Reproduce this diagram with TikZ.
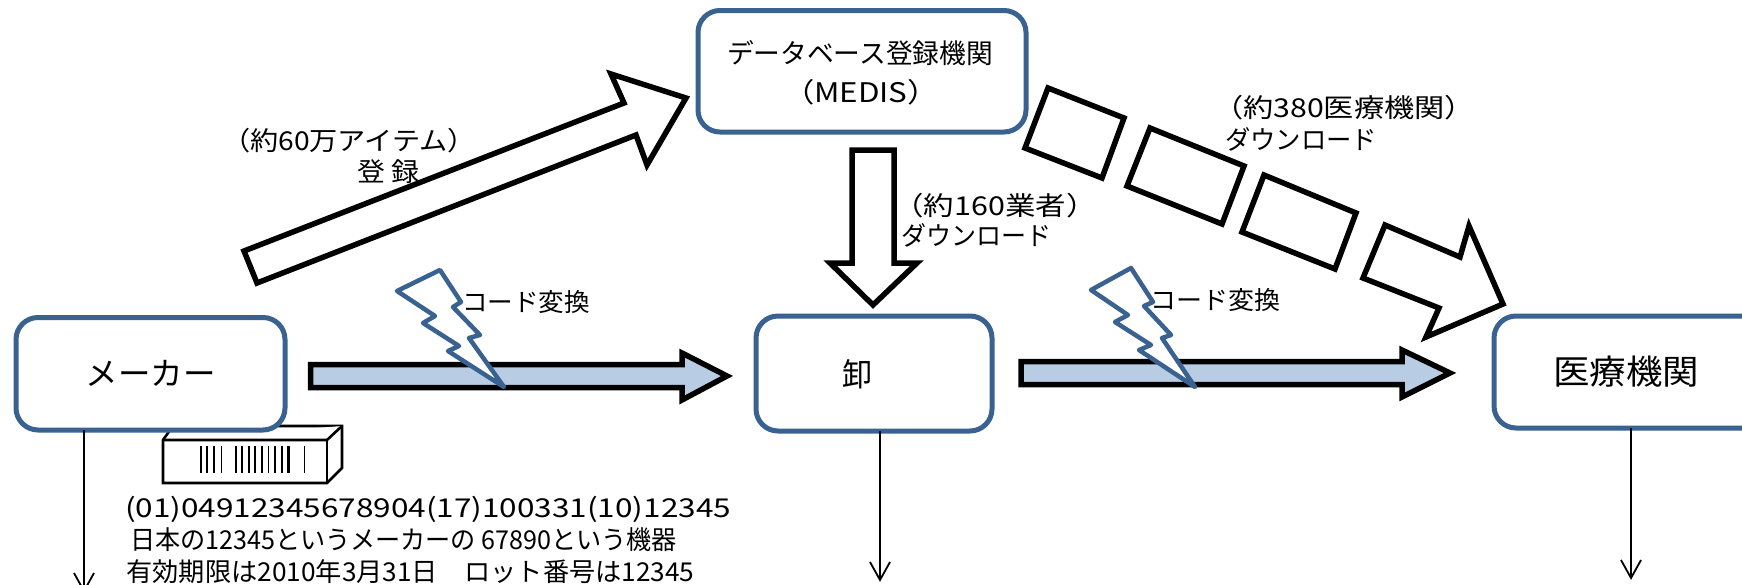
\documentclass[tikz,border=0pt]{standalone}
\usepackage{fontspec}
\usepackage{graphicx}
\setmainfont{Noto Sans CJK JP}
\newsavebox\tb
\newlength\tbw
\newcommand{\fitt}[3]{\sbox\tb{\fontsize{#2}{#2}\selectfont #3}\setlength\tbw{\wd\tb}\pgfmathsetmacro\fitr{#1/\tbw}\scalebox{\fitr}[1]{\usebox\tb}}
\definecolor{boxblue}{HTML}{3A6291}
\definecolor{arrowblue}{HTML}{B8CCE4}
\tikzset{
  orgbox/.style={draw=boxblue,line width=5pt,fill=white,rounded corners=22pt,inner sep=0pt,outer sep=0pt},
  blockarrow/.style={draw=black,line width=5.5pt,fill=white,miter limit=10},
  bluearrow/.style={draw=black,line width=5.5pt,fill=arrowblue,miter limit=10},
  bolt/.style={draw=boxblue,line width=4.5pt,fill=white,line join=round},
  thinline/.style={draw=black,line width=1.8pt},
  lbl/.style={inner sep=0pt,outer sep=0pt,anchor=center,text=black},
  bar/.style={fill=black,draw=none},
  carton/.style={draw=black,line width=2.6pt,fill=white,line join=miter}
}
\begin{document}
\begin{tikzpicture}[x=1pt,y=-1pt]
\useasboundingbox (0,0) rectangle (1742,584);
\fill[white] (0,0) rectangle (1742,584);
\clip (0,0) rectangle (1742,584);
% barcode carton
\draw[carton] (163,440) -- (173,426) -- (342,426) -- (342,468) -- (327,483) -- (163,483) -- cycle;
\draw[carton] (163,440) -- (327,440) -- (342,426);
\draw[carton] (327,440) -- (327,483);
\foreach \bx/\bw in {200.7/1.6,206.7/2,214/2.4,221.3/1.4,236/1.6,242/1.4,248.7/1.6,255/2.4,261.7/1.6,268.3/1.6,275/1.6,281.7/1.6,288.3/2.6,304.3/1.6}
  \fill[bar] (\bx-\bw/2,446) rectangle (\bx+\bw/2,473);
% organisation boxes
\node[orgbox,minimum width=328pt,minimum height=121.5pt] (db) at (862,71.25) {};
\node[orgbox,minimum width=269pt,minimum height=112.5pt] (maker) at (150.5,373.75) {};
\node[orgbox,minimum width=236pt,minimum height=115pt] (oroshi) at (874,373.5) {};
\node[orgbox,minimum width=286pt,minimum height=112pt] (hosp) at (1637,372) {};
% thin connectors
\coordinate (mk) at (84,591);
\coordinate (or) at (880,580);
\coordinate (ho) at (1631,578);
\draw[thinline] (maker.south -| mk) -- (mk);
\draw[thinline] (oroshi.south -| or) -- (or);
\draw[thinline] (hosp.south -| ho) -- (ho);
\draw[thinline] ([xshift=-10pt,yshift=18pt]mk) -- (mk) -- ([xshift=10pt,yshift=18pt]mk);
\draw[thinline] ([xshift=-10pt,yshift=18pt]or) -- (or) -- ([xshift=10pt,yshift=18pt]or);
\draw[thinline] ([xshift=-10pt,yshift=18pt]ho) -- (ho) -- ([xshift=10pt,yshift=18pt]ho);
% block arrows
\draw[blockarrow] (244,251) -- (624,103) -- (611,74) -- (686,98) -- (647,165) -- (636,135) -- (257,283) -- cycle;
\draw[blockarrow] (852,150) -- (894,150) -- (894,263) -- (917,263) -- (873,305) -- (830,263) -- (852,263) -- cycle;
\draw[blockarrow] (1048,88) -- (1124,118) -- (1102,178) -- (1025,148) -- cycle;
\draw[blockarrow] (1150,128) -- (1244,166) -- (1222,224) -- (1127,186) -- cycle;
\draw[blockarrow] (1264,175) -- (1356,213) -- (1335,269) -- (1242,232) -- cycle;
\draw[blockarrow] (1385,225) -- (1460,257) -- (1469,226) -- (1503,304) -- (1426,337) -- (1439,308) -- (1363,278) -- cycle;
\draw[bluearrow] (310.5,364.5) -- (682,364.5) -- (682,353) -- (727,376) -- (682,400) -- (682,387.5) -- (310.5,387.5) -- cycle;
\draw[bluearrow] (1021,361.5) -- (1402,361.5) -- (1402,350) -- (1450,373) -- (1402,397) -- (1402,384.5) -- (1021,384.5) -- cycle;
% lightning bolts
\draw[bolt] (440,270) -- (461,302) -- (453,307) -- (480,335) -- (469,338) -- (504,387) -- (448,351) -- (459,346) -- (423,323) -- (435,316) -- (397,291) -- cycle;
\draw[bolt] (1131,268) -- (1153,302) -- (1144,306) -- (1171,335) -- (1162,338) -- (1195,387) -- (1139,350) -- (1151,345) -- (1115,322) -- (1128,315) -- (1091,290) -- cycle;
% labels
\node[lbl] (t1) at (860,53) {\fitt{266}{27pt}{データベース登録機関}};
\node[lbl] (t2) at (861,92) {\fitt{156}{27pt}{（MEDIS）}};
\node[lbl] (t3) at (349,141) {\fitt{254}{26pt}{（約60万アイテム）}};
\node[lbl] (t4) at (388,172) {\fitt{62}{26pt}{登 録}};
\node[lbl] (t5) at (995,206) {\fitt{203}{26pt}{（約160業者）}};
\node[lbl] (t6) at (976,235) {\fitt{150}{26pt}{ダウンロード}};
\node[lbl] (t7) at (1344,108) {\fitt{262}{26pt}{（約380医療機関）}};
\node[lbl] (t8) at (1301,139) {\fitt{152}{26pt}{ダウンロード}};
\node[lbl] (t9) at (526,302) {\fitt{128}{25pt}{コード変換}};
\node[lbl] (t10) at (1215,300) {\fitt{130}{25pt}{コード変換}};
\node[lbl] (t11) at (150.5,373) {\fitt{130}{32pt}{メーカー}};
\node[lbl] (t12) at (857,374) {\fitt{30}{32pt}{卸}};
\node[lbl] (t13) at (1626,372) {\fitt{146}{34pt}{医療機関}};
\node[lbl] (t14) at (428,509) {\fitt{606}{26pt}{(01)04912345678904(17)100331(10)12345}};
\node[lbl] (t15) at (403.5,540) {\fitt{547}{26pt}{日本の12345というメーカーの 67890という機器}};
\node[lbl] (t16) at (410.5,572) {\fitt{568}{26pt}{有効期限は2010年3月31日　ロット番号は12345}};
\end{tikzpicture}
\end{document}
